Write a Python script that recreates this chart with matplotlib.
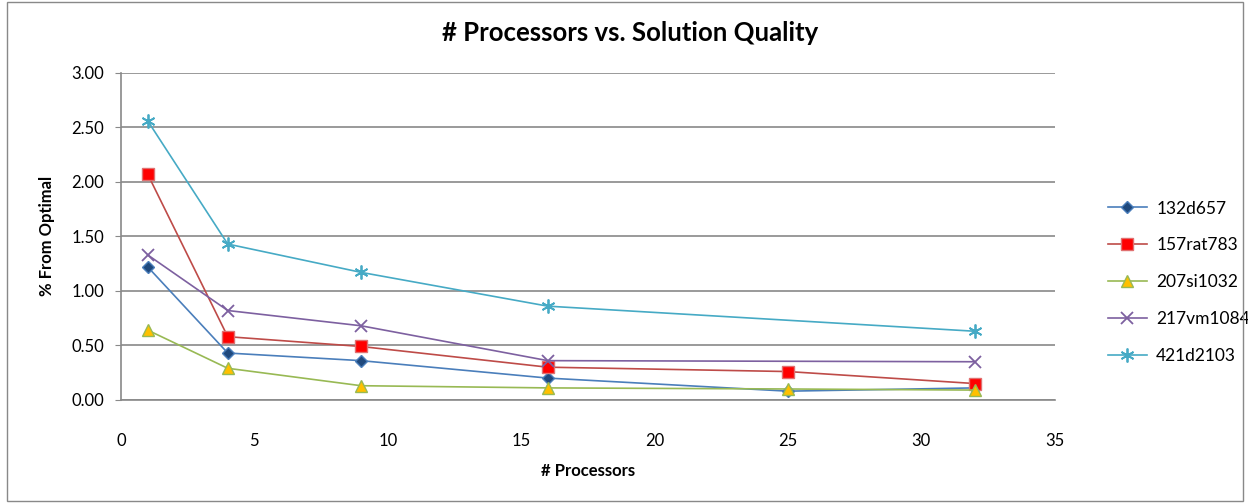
import matplotlib.pyplot as plt

plt.rcParams['font.family'] = ['Lato', 'DejaVu Sans']

x_all = [1, 4, 9, 16, 25, 32]
x_part = [1, 4, 9, 16, 32]

d132 = [1.22, 0.43, 0.36, 0.20, 0.08, 0.11]
rat157 = [2.07, 0.58, 0.49, 0.30, 0.26, 0.15]
si207 = [0.64, 0.29, 0.13, 0.11, 0.10, 0.09]
vm217 = [1.33, 0.82, 0.68, 0.36, 0.35]
d421 = [2.56, 1.43, 1.17, 0.86, 0.63]

fig = plt.figure(figsize=(12.48, 5.03), dpi=100)
ax = fig.add_axes([0.097, 0.205, 0.748, 0.65])

ax.plot(x_all, d132, color='#4A7EBB', lw=1.2, marker='D', ms=6,
        mfc='#1F497D', mec='#4A7EBB', label='132d657')
ax.plot(x_all, rat157, color='#BE4B48', lw=1.2, marker='s', ms=9,
        mfc='#FF0000', mec='#E07070', label='157rat783')
ax.plot(x_all, si207, color='#98B954', lw=1.2, marker='^', ms=9,
        mfc='#FFC000', mec='#98B954', label='207si1032')
ax.plot(x_part, vm217, color='#7D60A0', lw=1.2, marker='x', ms=9,
        mew=1.3, label='217vm1084')
ax.plot(x_part, d421, color='#46AAC5', lw=1.2, marker=(6, 2, 0), ms=10,
        mew=1.3, label='421d2103')

ax.set_xlim(0, 35)
ax.set_ylim(0, 3)
ax.set_xticks(range(0, 36, 5))
ax.set_yticks([0, 0.5, 1, 1.5, 2, 2.5, 3])
ax.set_yticklabels(['%.2f' % v for v in ax.get_yticks()])
ax.yaxis.grid(True, color='#898989', lw=1.2)
ax.set_axisbelow(True)
for s in ['top', 'right']:
    ax.spines[s].set_visible(False)
for s in ['left', 'bottom']:
    ax.spines[s].set_color('#898989')
    ax.spines[s].set_linewidth(1.2)
ax.tick_params(axis='y', length=4, color='#898989', labelsize=12, pad=8)
ax.tick_params(axis='x', length=0, labelsize=12, pad=24)

fig.text(0.505, 0.935, '# Processors vs. Solution Quality', fontsize=18.5,
         fontweight='bold', ha='center', va='center')
ax.set_xlabel('# Processors', fontsize=12, fontweight='bold', labelpad=10)
ax.set_ylabel('% From Optimal', fontsize=12, fontweight='bold', labelpad=12)

ax.legend(loc='center left', bbox_to_anchor=(1.04, 0.36), frameon=False,
          fontsize=12.5, labelspacing=1.2, handlelength=2.3, handletextpad=0.5)

border = plt.Rectangle((0.006, 0.004), 0.99, 0.992, transform=fig.transFigure,
                       fill=False, edgecolor='#898989', lw=1)
fig.patches.append(border)

fig.savefig('out.png', dpi=100)
